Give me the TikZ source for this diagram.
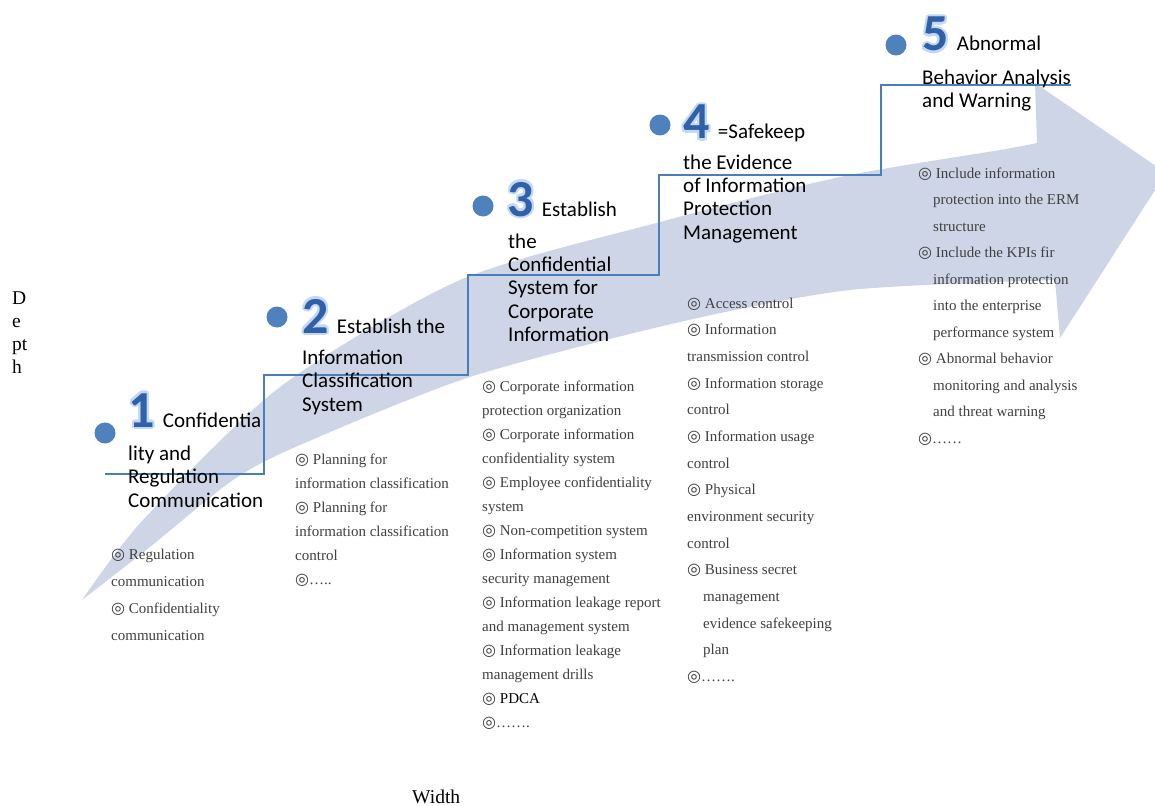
\documentclass[tikz,border=0pt]{standalone}
\usepackage{fontspec}
\setmainfont{Liberation Serif}
\newfontfamily\carlito{Carlito}
\newfontfamily\dejavu{DejaVu Sans}
\usepackage{xcolor}
\usetikzlibrary{positioning}

\definecolor{arrowgray}{RGB}{205,213,230}
\definecolor{stepblue}{RGB}{74,126,187}
\definecolor{dotblue}{RGB}{79,129,189}
\definecolor{numblue}{RGB}{48,96,168}
\definecolor{numglow}{RGB}{196,216,242}
\definecolor{bodygray}{RGB}{64,64,64}

\newcommand{\itemsym}{{\dejavu\fontsize{16}{16}\selectfont ◎}}
\newcommand{\stepnum}[3]{%
  \foreach \a in {0,30,...,330}
    \node[numtxt, text=numglow] at ([shift={(\a:2.2)}]#2) {#3};
  \node[numtxt] (#1) at (#2) {#3};}

\begin{document}
\begin{tikzpicture}[x=1pt, y=-1pt,
  every node/.style={inner sep=0pt},
  arrowband/.style={fill=arrowgray},
  stepline/.style={draw=stepblue, line width=1.4pt},
  dot/.style={circle, fill=dotblue, minimum size=21pt},
  numtxt/.style={anchor=base west, text=numblue,
                 font=\carlito\bfseries\fontsize{52}{52}\selectfont},
  headline/.style={anchor=base west, font=\carlito\fontsize{21}{23.3}\selectfont},
  headrest/.style={anchor=north west, align=left,
                   font=\carlito\fontsize{21}{23.3}\selectfont},
  itemlist/.style={anchor=north west, align=left, text=bodygray,
                   font=\fontsize{15}{#1}\selectfont},
  axislabel/.style={font=\fontsize{19.5}{23}\selectfont}
]
  \useasboundingbox (0,0) rectangle (1155,805);

  % big curved arrow in the background
  \begin{scope}
    \clip (0,0) rectangle (1155,805);
    \fill[arrowband] plot[smooth, tension=0.45] coordinates {(82,600) (143,520)
        (280,387) (460,280) (660,222) (840,177) (1000,150) (1037,143)}
      -- (1035,83) -- (1166,173) -- (1060,338)
      -- plot[smooth, tension=0.45] coordinates {(1055,280) (850,290) (680,322)
        (470,377) (300,445) (233,480) (150,547) (82,600)} -- cycle;
  \end{scope}

  % stairs
  \draw[stepline] (105,474) -| (264,375) -| (468,275) -| (659,175) -| (881,85) -- (1071,85);

  % bullets
  \node[dot] (d1) at (105,433) {};
  \node[dot] (d2) at (277,317) {};
  \node[dot] (d3) at (483,206) {};
  \node[dot] (d4) at (660,125) {};
  \node[dot] (d5) at (896,45) {};

  % step numbers
  \stepnum{n1}{128,427}{1}
  \stepnum{n2}{302,333}{2}
  \stepnum{n3}{507,216}{3}
  \stepnum{n4}{683,139}{4}
  \stepnum{n5}{922,51}{5}

  % step titles
  \node[headline] (h1) at ([xshift=8pt]n1.base east) {Confidentia};
  \node[headrest] (h1r) at (128,445.7) {lity and\\Regulation\\Communication};
  \node[headline] (h2) at ([xshift=8pt]n2.base east) {Establish the};
  \node[headrest] (h2r) at (302,349.7) {Information\\Classification\\System};
  \node[headline] (h3) at ([xshift=8pt]n3.base east) {Establish};
  \node[headrest] (h3r) at (508,233.4) {the\\Confidential\\System for\\Corporate\\Information};
  \node[headline] (h4) at ([xshift=8pt]n4.base east) {=Safekeep};
  \node[headrest] (h4r) at (683,154.4) {the Evidence\\of Information\\Protection\\Management};
  \node[headline] (h5) at ([xshift=8pt]n5.base east) {Abnormal};
  \node[headrest] (h5r) at (922,69.7) {Behavior Analysis\\and Warning};

  % item lists
  \node[itemlist=26.7] (l1) at (111,549.3) {\itemsym{} Regulation\\communication\\
    \itemsym{} Confidentiality\\communication};
  \node[itemlist=24] (l2) at (295,453.9) {\itemsym{} Planning for\\information classification\\
    \itemsym{} Planning for\\information classification\\control\\\itemsym{}…..};
  \node[itemlist=24] (l3) at (482,381.2) {\itemsym{} Corporate information\\
    protection organization\\\itemsym{} Corporate information\\confidentiality system\\
    \itemsym{} Employee confidentiality\\system\\\itemsym{} Non-competition system\\
    \itemsym{} Information system\\security management\\
    \itemsym{} Information leakage report\\and management system\\
    \itemsym{} Information leakage\\management drills\\
    \itemsym{} {\color{black}PDCA}\\\itemsym{}…….};
  \node[itemlist=26.65] (l4) at (687,297.6) {\itemsym{} Access control\\
    \itemsym{} Information\\transmission control\\\itemsym{} Information storage\\control\\
    \itemsym{} Information usage\\control\\\itemsym{} Physical\\environment security\\control\\
    \itemsym{} Business secret\\\hspace*{16pt}management\\
    \hspace*{16pt}evidence safekeeping\\\hspace*{16pt}plan\\\itemsym{}…….};
  \node[itemlist=26.5] (l5) at (918,167.7) {\itemsym{} Include information\\
    \hspace*{15pt}protection into the ERM\\\hspace*{15pt}structure\\
    \itemsym{} Include the KPIs fir\\\hspace*{15pt}information protection\\
    \hspace*{15pt}into the enterprise\\\hspace*{15pt}performance system\\
    \itemsym{} Abnormal behavior\\\hspace*{15pt}monitoring and analysis\\
    \hspace*{15pt}and threat warning\\\itemsym{}……};

  % axis labels
  \node[axislabel, anchor=north west, align=left] (depth) at (12,291.9) {D\\e\\pt\\h};
  \node[axislabel, anchor=base west] (width) at (412,803) {Width};
\end{tikzpicture}
\end{document}
